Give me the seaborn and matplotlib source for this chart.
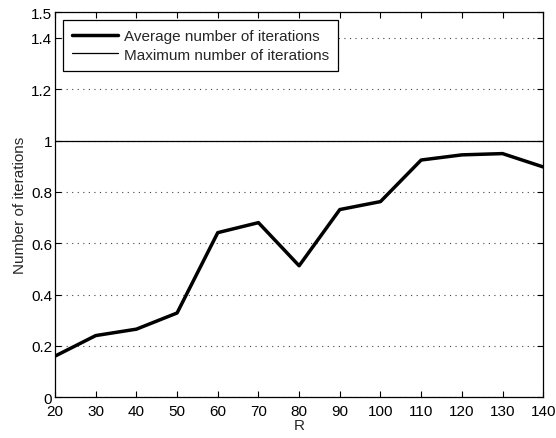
import matplotlib
matplotlib.use('Agg')
import matplotlib.pyplot as plt
import seaborn as sns
import pandas as pd

R = [20, 30, 40, 50, 60, 70, 80, 90, 100, 110, 120, 130, 140]
avg_iter = [0.16, 0.24, 0.265, 0.328, 0.641, 0.68, 0.512, 0.731, 0.762, 0.924, 0.944, 0.949, 0.897]
max_iter = [1, 1, 1, 1, 1, 1, 1, 1, 1, 1, 1, 1, 1]
y_ticks = [0, 0.2, 0.4, 0.6, 0.8, 1, 1.2, 1.4, 1.5]

sns.set_style('ticks')
plt.rcParams['font.family'] = ['Liberation Sans', 'DejaVu Sans']
plt.rcParams['font.size'] = 11

df = pd.DataFrame({'R': R, 'avg': avg_iter, 'max': max_iter})

fig = plt.figure(figsize=(5.56, 4.39), dpi=100)
ax = fig.add_axes([0.099, 0.093, 0.878, 0.877])

sns.lineplot(data=df, x='R', y='avg', ax=ax, color='black', linewidth=2.5,
             label='Average number of iterations')
sns.lineplot(data=df, x='R', y='max', ax=ax, color='black', linewidth=0.9,
             label='Maximum number of iterations')

ax.set_xlim(20, 140)
ax.set_ylim(0, 1.5)
ax.set_xticks(R)
ax.set_yticks(y_ticks)
ax.set_yticklabels(['0', '0.2', '0.4', '0.6', '0.8', '1', '1.2', '1.4', '1.5'])
ax.yaxis.grid(True, linestyle=(0, (1, 4)), color='#444444', linewidth=0.8)
ax.xaxis.grid(False)
ax.tick_params(direction='in', top=True, right=True, length=4, width=0.8,
               labelsize=11, colors='black', pad=2)
ax.tick_params(axis='x', pad=5)
for s in ax.spines.values():
    s.set_color('black')
    s.set_linewidth(0.9)
ax.set_xlabel('R', fontsize=11, labelpad=0)
ax.set_ylabel('Number of iterations', fontsize=11, labelpad=3)

leg = ax.legend(loc='upper left', fontsize=11, fancybox=False, framealpha=1,
                edgecolor='black', borderaxespad=0.5, handlelength=3.0,
                handletextpad=0.4, labelspacing=0.3, borderpad=0.6)
leg.get_frame().set_linewidth(0.9)

fig.savefig('out.png', dpi=100)
